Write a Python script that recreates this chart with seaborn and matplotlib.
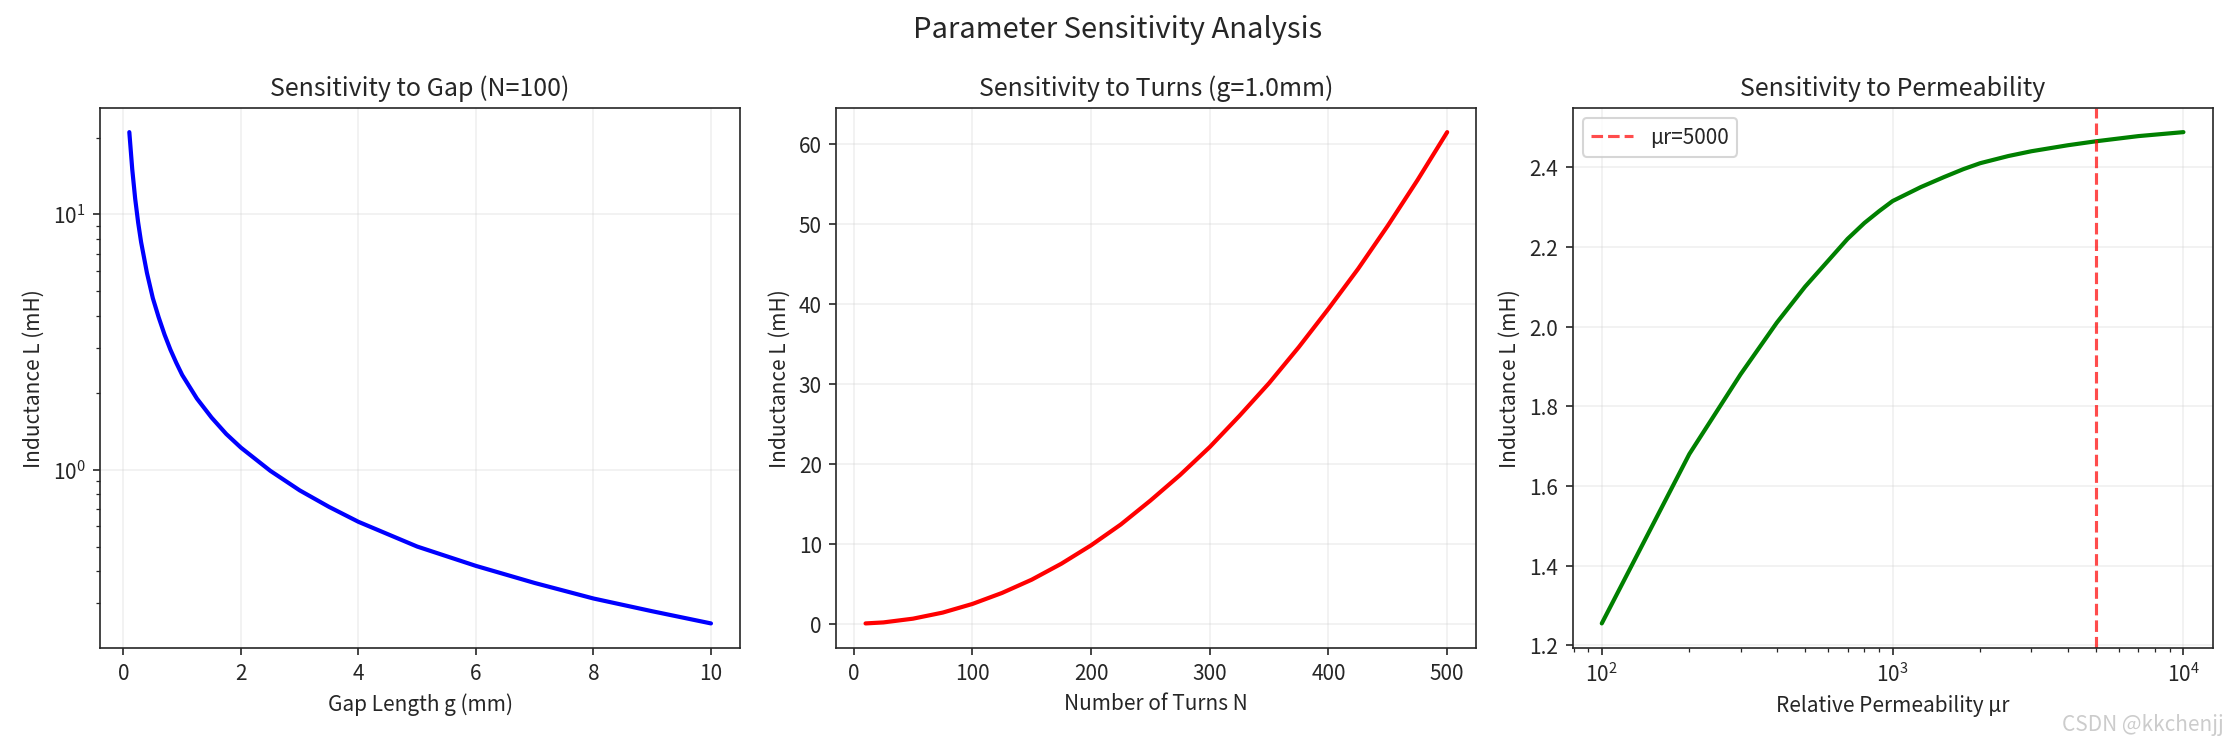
import matplotlib
matplotlib.use("Agg")
import matplotlib.pyplot as plt
import seaborn as sns
import pandas as pd

sns.set_style("ticks")
plt.rcParams['font.family'] = ['Noto Sans CJK SC', 'DejaVu Sans']
plt.rcParams['axes.unicode_minus'] = False

gap_mm = [0.1, 0.15, 0.2, 0.25, 0.3, 0.4, 0.5, 0.6, 0.7, 0.8, 0.9, 1.0, 1.25, 1.5, 1.75, 2.0, 2.5, 3.0, 3.5, 4.0, 5.0, 6.0, 7.0, 8.0, 9.0, 10.0]
gap_L = [21.0, 15.0, 11.5, 9.3, 7.8, 5.9, 4.7, 3.95, 3.38, 2.95, 2.62, 2.35, 1.9, 1.6, 1.38, 1.22, 0.99, 0.83, 0.715, 0.625, 0.5, 0.42, 0.36, 0.313, 0.279, 0.25]

turns_N = [10, 25, 50, 75, 100, 125, 150, 175, 200, 225, 250, 275, 300, 325, 350, 375, 400, 425, 450, 475, 500]
turns_L = [0.025, 0.15, 0.62, 1.38, 2.46, 3.84, 5.5, 7.5, 9.8, 12.4, 15.4, 18.6, 22.1, 26.0, 30.1, 34.6, 39.4, 44.4, 49.8, 55.5, 61.5]

mu_r = [100, 200, 300, 400, 500, 600, 700, 800, 900, 1000, 1250, 1500, 1750, 2000, 2500, 3000, 4000, 5000, 7000, 10000]
mu_L = [1.255, 1.68, 1.88, 2.01, 2.10, 2.165, 2.22, 2.26, 2.29, 2.315, 2.35, 2.375, 2.395, 2.41, 2.428, 2.44, 2.455, 2.465, 2.478, 2.488]
mu_mark = 5000

fig, axes = plt.subplots(1, 3, figsize=(14.9, 4.93), dpi=150)

ax = axes[0]
sns.lineplot(data=pd.DataFrame({"g": gap_mm, "L": gap_L}), x="g", y="L", ax=ax, color="blue", linewidth=2)
ax.set_yscale("log")
ax.set_xlabel("Gap Length g (mm)")
ax.set_ylabel("Inductance L (mH)")
ax.set_title("Sensitivity to Gap (N=100)")
ax.grid(True, alpha=0.3)

ax = axes[1]
sns.lineplot(data=pd.DataFrame({"N": turns_N, "L": turns_L}), x="N", y="L", ax=ax, color="red", linewidth=2)
ax.set_xlabel("Number of Turns N")
ax.set_ylabel("Inductance L (mH)")
ax.set_title("Sensitivity to Turns (g=1.0mm)")
ax.grid(True, alpha=0.3)

ax = axes[2]
sns.lineplot(data=pd.DataFrame({"mu": mu_r, "L": mu_L}), x="mu", y="L", ax=ax, color="green", linewidth=2)
ax.set_xscale("log")
ax.axvline(mu_mark, color="red", linestyle="--", alpha=0.7, label=f"μr={mu_mark}")
ax.legend(loc="upper left")
ax.set_xlabel("Relative Permeability μr")
ax.set_ylabel("Inductance L (mH)")
ax.set_title("Sensitivity to Permeability")
ax.grid(True, alpha=0.3)

fig.suptitle("Parameter Sensitivity Analysis", fontsize=14)
fig.tight_layout()
fig.text(0.995, 0.005, "CSDN @kkchenjj", ha="right", va="bottom", fontsize=10, color="#cccccc")
fig.savefig("out.png", dpi=150)
